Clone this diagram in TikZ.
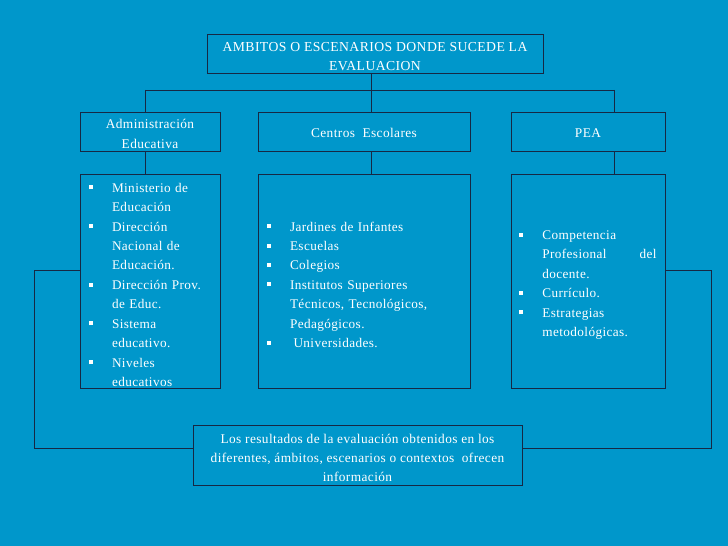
\documentclass[tikz,border=0pt]{standalone}
\usepackage{fontspec}
\setmainfont[LetterSpace=3]{Liberation Serif}
\usetikzlibrary{calc}

\definecolor{slideblue}{RGB}{0,151,203}
\definecolor{linenavy}{RGB}{22,40,68}

\newcommand{\bul}{\makebox[0.69cm][l]{\raisebox{0.22em}{\color{white}\rule{0.12cm}{0.12cm}}}}
\newcommand{\cnt}{\hspace*{0.69cm}}
\newcommand{\lift}[1]{\rule{0pt}{#1}}

\tikzset{
    link/.style={draw=linenavy, line width=0.7pt},
    headbox/.style={draw=linenavy, line width=0.8pt, fill=slideblue, text=white, align=center,
        minimum height=1.17cm, inner sep=0pt, font=\fontsize{11.4}{16.6}\selectfont},
    listbox/.style={draw=linenavy, line width=0.8pt, fill=slideblue, text=white, align=left,
        minimum height=6.42cm, inner xsep=0.27cm, inner ysep=0pt, font=\fontsize{11.3}{16.6}\selectfont}
}

\begin{document}
\begin{tikzpicture}

    % background
    \fill[slideblue] (0,0) rectangle (21.84,-16.38);
    \useasboundingbox (0,0) rectangle (21.84,-16.38);

    % nodes
    \node[headbox, minimum width=10.08cm, font=\fontsize{11.7}{16.6}\selectfont] (ambitos) at (11.25,-1.605) {\lift{13pt}AMBITOS O ESCENARIOS DONDE SUCEDE LA\\EVALUACION};
    \node[headbox, minimum width=4.2cm] (admin) at (4.5,-3.945) {\lift{12pt}Administración\\Educativa};
    \node[headbox, minimum width=6.36cm] (centros) at (10.92,-3.945) {\lift{11pt}Centros\ \ Escolares};
    \node[headbox, minimum width=4.62cm] (pea) at (17.64,-3.945) {\lift{11pt}PEA};

    \node[listbox, text width=3.66cm] (adminlist) at (4.5,-8.43) {%
        \lift{14.5pt}\bul Ministerio de\\\cnt Educación\\
        \bul Dirección\\\cnt Nacional de\\\cnt Educación.\\
        \bul Dirección Prov.\\\cnt de Educ.\\
        \bul Sistema\\\cnt educativo.\\
        \bul Niveles\\\cnt educativos};
    \node[listbox, text width=5.82cm] (centroslist) at (10.92,-8.43) {%
        \lift{14.5pt}\bul Jardines de Infantes\\
        \bul Escuelas\\
        \bul Colegios\\
        \bul Institutos Superiores\\\cnt Técnicos, Tecnológicos,\\\cnt Pedagógicos.\\
        \bul\hspace{3pt}Universidades.};
    \node[listbox, text width=4.12cm, inner xsep=0.25cm] (pealist) at (17.64,-8.43) {%
        \lift{14.5pt}\bul Competencia\\\cnt Profesional\hfill del\\\cnt docente.\\
        \bul Currículo.\\
        \bul Estrategias\\\cnt metodológicas.\\[0.9cm]};

    \node[headbox, minimum width=9.87cm, minimum height=1.8cm] (resultados) at (10.725,-13.65) {\lift{13pt}Los resultados de la evaluación obtenidos en los\\diferentes, ámbitos, escenarios o contextos\ \ ofrecen\\información};

    % bus points
    \coordinate (busA) at (4.35,-2.7);
    \coordinate (busC) at (11.13,-2.7);
    \coordinate (busP) at (18.42,-2.7);
    \coordinate (fbL) at (1.02,-8.1);
    \coordinate (fbR) at (21.33,-8.1);
    \coordinate (fbLb) at (1.02,-13.44);
    \coordinate (fbRb) at (21.33,-13.44);

    % paths
    \draw[link] (ambitos.south -| busC) -- (busC); % ambitos -> bus
    \draw[link] (busA) -- (busP); % bus
    \draw[link] (busA) -- (busA |- admin.north); % bus -> admin
    \draw[link] (busC) -- (busC |- centros.north); % bus -> centros
    \draw[link] (busP) -- (busP |- pea.north); % bus -> pea
    \draw[link] (busA |- admin.south) -- (busA |- adminlist.north); % admin -> list
    \draw[link] (busC |- centros.south) -- (busC |- centroslist.north); % centros -> list
    \draw[link] (busP |- pea.south) -- (busP |- pealist.north); % pea -> list
    \draw[link] (fbL -| adminlist.west) -- (fbL) -- (fbLb) -- (fbLb -| resultados.west); % admin list -> resultados
    \draw[link] (fbR -| pealist.east) -- (fbR) -- (fbRb) -- (fbRb -| resultados.east); % pea list -> resultados

\end{tikzpicture}
\end{document}
